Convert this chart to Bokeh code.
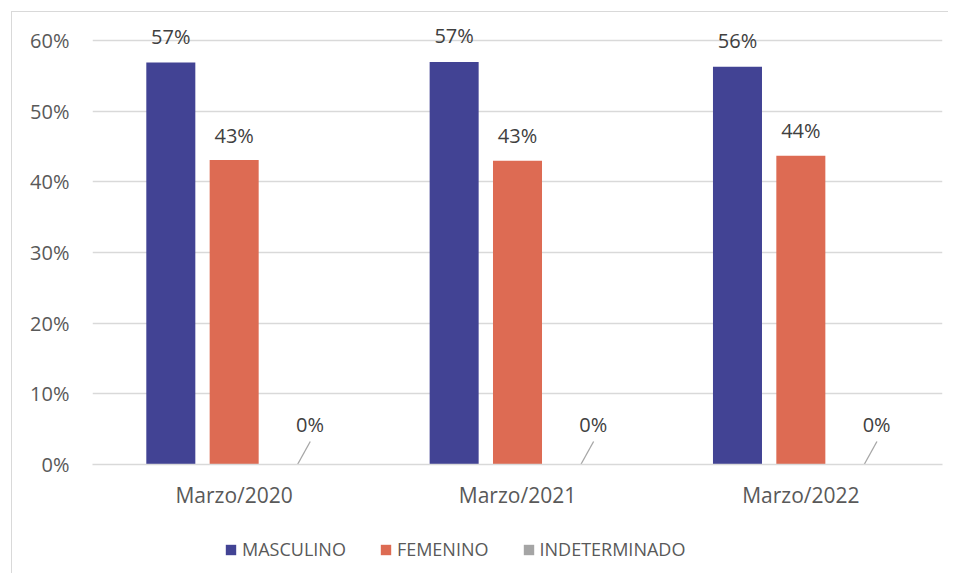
from bokeh.plotting import figure
from bokeh.layouts import column
from bokeh.models import (ColumnDataSource, FactorRange, LabelSet, Legend, LegendItem,
                          FixedTicker, Range1d)
from bokeh.core.properties import value
from bokeh.transform import dodge
from bokeh.embed import file_html
from bokeh.resources import INLINE

periods = ["Marzo/2020", "Marzo/2021", "Marzo/2022"]
masculino = [56.9, 57.0, 56.3]
femenino = [43.1, 43.0, 43.7]
indeterminado = [0.0, 0.0, 0.0]
series_names = ["MASCULINO", "FEMENINO", "INDETERMINADO"]
y_ticks = [0, 10, 20, 30, 40, 50, 60]
y_tick_labels = ["0%", "10%", "20%", "30%", "40%", "50%", "60%"]

colors = ["#424394", "#DD6B53", "#A5A5A5"]
FONT = "Open Sans"

def pct(vals):
    return [f"{round(v)}%" for v in vals]

src = ColumnDataSource(dict(
    period=periods,
    masc=masculino, fem=femenino, ind=indeterminado,
    masc_lbl=pct(masculino), fem_lbl=pct(femenino), ind_lbl=pct(indeterminado),
    ind_top=[v + 3.26 for v in indeterminado],
))

p = figure(x_range=FactorRange(factors=periods, range_padding=0),
           y_range=Range1d(0, 63),
           width=936, height=503, output_backend="svg", toolbar_location=None,
           min_border_left=80, min_border_right=6, min_border_top=7, min_border_bottom=51)
p.outline_line_color = None
p.background_fill_color = "white"
p.border_fill_color = "white"

off = 0.2236
bw = 0.173
p.vbar(x=dodge("period", -off, range=p.x_range), top="masc", width=bw, source=src,
       fill_color=colors[0], line_color=None)
p.vbar(x=dodge("period", 0.0, range=p.x_range), top="fem", width=bw, source=src,
       fill_color=colors[1], line_color=None)
p.vbar(x=dodge("period", off, range=p.x_range), top="ind", width=bw, source=src,
       fill_color=colors[2], line_color=None)

# leader lines for 0% labels
p.segment(x0=dodge("period", off, range=p.x_range), y0="ind",
          x1=dodge("period", off + 0.045, range=p.x_range), y1="ind_top",
          source=src, line_color="#A6A6A6", line_width=1.3)

common = dict(source=src, text_font=value(FONT), text_font_size="20px", text_color="#404040",
              text_align="center", text_baseline="middle")
p.add_layout(LabelSet(x=dodge("period", -off, range=p.x_range), y="masc", text="masc_lbl",
                      y_offset=26, **common))
p.add_layout(LabelSet(x=dodge("period", 0.0, range=p.x_range), y="fem", text="fem_lbl",
                      y_offset=25, **common))
p.add_layout(LabelSet(x=dodge("period", off, range=p.x_range), y="ind", text="ind_lbl",
                      x_offset=12.5, y_offset=40, **common))

# axes
p.yaxis.ticker = FixedTicker(ticks=y_ticks)
p.yaxis.major_label_overrides = {t: l for t, l in zip(y_ticks, y_tick_labels)}
p.yaxis.axis_line_color = None
p.yaxis.major_tick_line_color = None
p.yaxis.minor_tick_line_color = None
p.yaxis.major_label_standoff = 17
p.yaxis.major_label_text_font = FONT
p.yaxis.major_label_text_font_size = "20px"
p.yaxis.major_label_text_color = "#595959"

p.xaxis.axis_line_color = "#d9d9d9"
p.xaxis.axis_line_width = 1.5
p.xaxis.major_tick_line_color = None
p.xaxis.minor_tick_line_color = None
p.xaxis.major_label_standoff = 10
p.xaxis.major_label_text_font = FONT
p.xaxis.major_label_text_font_size = "21px"
p.xaxis.major_label_text_color = "#595959"

p.xgrid.grid_line_color = None
p.ygrid.grid_line_color = "#d9d9d9"
p.ygrid.grid_line_width = 1.5

# legend strip (own small figure; its bars have zero height, only legend swatches show)
lp = figure(width=936, height=58, x_range=Range1d(0, 1), y_range=Range1d(0, 1),
            output_backend="svg", toolbar_location=None,
            min_border_left=0, min_border_right=0, min_border_top=0, min_border_bottom=0)
lp.axis.visible = False
lp.grid.visible = False
lp.outline_line_color = None
lsrc = ColumnDataSource(dict(x=[0.5], top=[0.0]))
items = []
for name, col in zip(series_names, colors):
    r = lp.vbar(x="x", top="top", width=0.01, source=lsrc, fill_color=col, line_color=None)
    items.append(LegendItem(label=name, renderers=[r]))
legend = Legend(items=items, orientation="horizontal", location=(132, 12),
                glyph_width=13, glyph_height=13, label_standoff=5, spacing=33,
                label_text_font=FONT, label_text_font_size="18px", label_text_color="#595959",
                border_line_color=None, background_fill_alpha=0, padding=0, margin=0)
lp.add_layout(legend, "center")

layout = column(p, lp, spacing=0)
layout.margin = (11, 0, 0, 11)
layout.styles = {"border-left": "1px solid #d9d9d9", "border-top": "1px solid #d9d9d9"}

open("out.html", "w").write(file_html(layout, INLINE))
